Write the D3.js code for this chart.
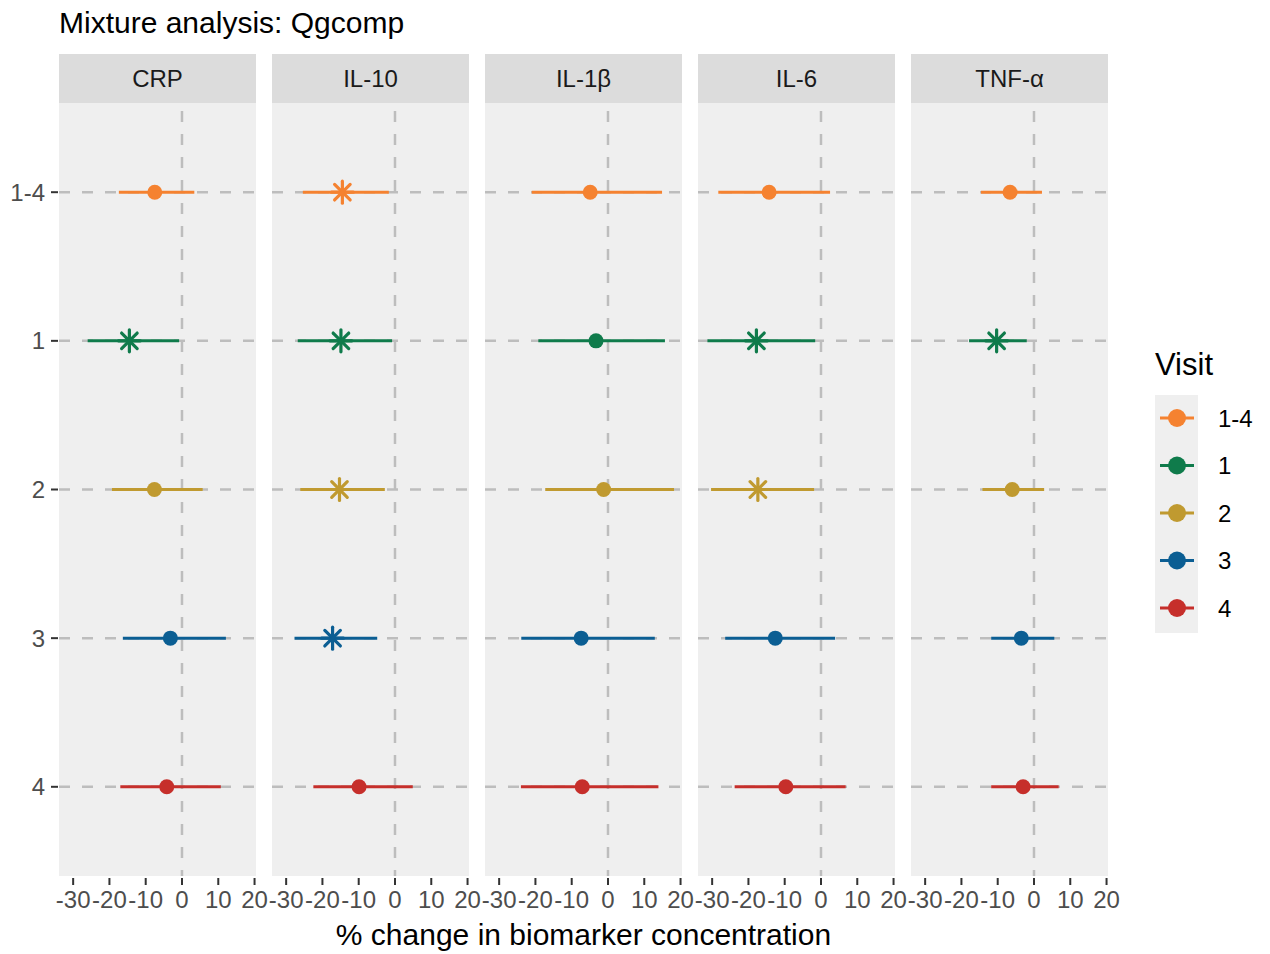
<!DOCTYPE html>
<html>
<head>
<meta charset="utf-8">
<script src="https://cdn.jsdelivr.net/npm/d3@7"></script>
<style>
  body { margin: 0; background: #fff; }
  text { font-family: "Liberation Sans", Arial, sans-serif; }
</style>
</head>
<body>
<div id="chart"></div>
<script>
var width = 1270;
var height = 954;

// facets and visits
var biomarkers = ["CRP", "IL-10", "IL-1β", "IL-6", "TNF-α"];
var visits = ["1-4", "1", "2", "3", "4"];
var visitColors = ["#f58230", "#0f7b4b", "#c09a30", "#0b5e93", "#c62f2b"];
var xTicks = [-30, -20, -10, 0, 10, 20];

// estimates (% change), one array per biomarker, in visit order
var estCRP   = [-7.5, -14.5, -7.6, -3.2, -4.2];
var lowCRP   = [-17.4, -26.0, -19.3, -16.3, -17.0];
var highCRP  = [3.4, -0.8, 5.7, 12.1, 10.7];
var sigCRP   = [false, true, false, false, false];

var estIL10  = [-14.5, -14.9, -15.3, -17.2, -9.9];
var lowIL10  = [-25.4, -26.8, -26.1, -27.7, -22.5];
var highIL10 = [-1.7, -0.8, -2.8, -4.9, 4.9];
var sigIL10  = [true, true, true, true, false];

var estIL1b  = [-4.9, -3.3, -1.2, -7.4, -7.1];
var lowIL1b  = [-21.0, -19.2, -17.3, -23.9, -24.0];
var highIL1b = [14.9, 15.7, 18.2, 12.9, 13.9];
var sigIL1b  = [false, false, false, false, false];

var estIL6   = [-14.3, -17.8, -17.4, -12.6, -9.7];
var lowIL6   = [-28.3, -31.3, -30.3, -26.4, -23.8];
var highIL6  = [2.5, -1.6, -1.9, 3.9, 6.8];
var sigIL6   = [false, true, true, false, false];

var estTNF   = [-6.6, -10.3, -6.0, -3.5, -3.0];
var lowTNF   = [-14.6, -17.9, -14.2, -11.8, -11.8];
var highTNF  = [2.2, -2.0, 2.8, 5.6, 6.8];
var sigTNF   = [false, true, false, false, false];

var estAll  = [estCRP, estIL10, estIL1b, estIL6, estTNF];
var lowAll  = [lowCRP, lowIL10, lowIL1b, lowIL6, lowTNF];
var highAll = [highCRP, highIL10, highIL1b, highIL6, highTNF];
var sigAll  = [sigCRP, sigIL10, sigIL1b, sigIL6, sigTNF];

// build rows
var rows = [];
biomarkers.forEach((b, i) => {
  visits.forEach((v, j) => {
    rows.push({
      biomarker: b,
      visit: v,
      est: estAll[i][j],
      low: lowAll[i][j],
      high: highAll[i][j],
      sig: sigAll[i][j]
    });
  });
});

var color = d3.scaleOrdinal().domain(visits).range(visitColors);

// layout
var panelLeft = 59, panelW = 197, panelGap = 16;
var stripTop = 54, stripH = 49;
var plotTop = stripTop + stripH, plotBottom = 876;

var x = d3.scaleLinear().domain([-33.9, 20.4]).range([0, panelW]);
var y = d3.scalePoint().domain(visits).range([plotTop, plotBottom]).padding(0.6);

var svg = d3.select("#chart").append("svg")
    .attr("width", width)
    .attr("height", height);

// title
svg.append("text")
    .attr("x", 59)
    .attr("y", 33)
    .attr("font-size", 30)
    .attr("fill", "#000")
    .text("Mixture analysis: Qgcomp");

function star(g, r) {
  [0, 45, 90, 135].forEach(a => {
    var rad = a * Math.PI / 180;
    g.append("line")
      .attr("x1", -r * Math.cos(rad)).attr("y1", -r * Math.sin(rad))
      .attr("x2", r * Math.cos(rad)).attr("y2", r * Math.sin(rad));
  });
}

biomarkers.forEach((b, i) => {
  var px = panelLeft + i * (panelW + panelGap);
  var g = svg.append("g").attr("transform", `translate(${px},0)`);

  // strip
  g.append("rect")
      .attr("x", 0).attr("y", stripTop)
      .attr("width", panelW).attr("height", stripH)
      .attr("fill", "#dcdcdc");
  g.append("text")
      .attr("x", panelW / 2)
      .attr("y", stripTop + stripH / 2 + 8.5)
      .attr("text-anchor", "middle")
      .attr("font-size", 24)
      .attr("fill", "#1a1a1a")
      .text(b);

  // panel bg
  g.append("rect")
      .attr("x", 0).attr("y", plotTop)
      .attr("width", panelW).attr("height", plotBottom - plotTop)
      .attr("fill", "#efefef");

  // dashed grid
  g.selectAll(".hgrid")
    .data(visits)
    .join("line")
      .attr("x1", 0).attr("x2", panelW)
      .attr("y1", d => y(d)).attr("y2", d => y(d))
      .attr("stroke", "#bdbdbd")
      .attr("stroke-width", 2.5)
      .attr("stroke-dasharray", "11,12");
  g.append("line")
      .attr("x1", x(0)).attr("x2", x(0))
      .attr("y1", plotTop).attr("y2", plotBottom)
      .attr("stroke", "#bdbdbd")
      .attr("stroke-width", 2.5)
      .attr("stroke-dasharray", "11,12")
      .attr("stroke-dashoffset", -8);

  var data = rows.filter(d => d.biomarker === b);

  g.selectAll(".ci")
    .data(data)
    .join("line")
      .attr("x1", d => x(d.low)).attr("x2", d => x(d.high))
      .attr("y1", d => y(d.visit)).attr("y2", d => y(d.visit))
      .attr("stroke", d => color(d.visit))
      .attr("stroke-width", 3);

  g.selectAll(".dot")
    .data(data.filter(d => !d.sig))
    .join("circle")
      .attr("cx", d => x(d.est))
      .attr("cy", d => y(d.visit))
      .attr("r", 7.5)
      .attr("fill", d => color(d.visit));

  data.filter(d => d.sig).forEach(d => {
    var s = g.append("g")
        .attr("transform", `translate(${x(d.est)},${y(d.visit)})`)
        .attr("stroke", color(d.visit))
        .attr("stroke-width", 3.2)
        .attr("stroke-linecap", "round");
    star(s, 11);
  });

  // x axis
  var ax = g.append("g")
      .attr("transform", `translate(0,${plotBottom})`);
  ax.selectAll("line")
    .data(xTicks)
    .join("line")
      .attr("x1", d => x(d)).attr("x2", d => x(d))
      .attr("y1", 2).attr("y2", 9)
      .attr("stroke", "#333")
      .attr("stroke-width", 2);
  ax.selectAll("text")
    .data(xTicks)
    .join("text")
      .attr("x", d => x(d))
      .attr("y", 32)
      .attr("text-anchor", "middle")
      .attr("font-size", 24)
      .attr("fill", "#4d4d4d")
      .text(d => d);
});

// y axis labels
svg.selectAll(".ylab")
  .data(visits)
  .join("text")
    .attr("x", 45)
    .attr("y", d => y(d) + 8.5)
    .attr("text-anchor", "end")
    .attr("font-size", 24)
    .attr("fill", "#4d4d4d")
    .text(d => d);
svg.selectAll(".ytick")
  .data(visits)
  .join("line")
    .attr("x1", 51).attr("x2", 58)
    .attr("y1", d => y(d)).attr("y2", d => y(d))
    .attr("stroke", "#333")
    .attr("stroke-width", 2);

// x title
svg.append("text")
    .attr("x", panelLeft + (5 * panelW + 4 * panelGap) / 2)
    .attr("y", 945)
    .attr("text-anchor", "middle")
    .attr("font-size", 30)
    .attr("fill", "#000")
    .text("% change in biomarker concentration");

// legend
var lg = svg.append("g").attr("transform", "translate(1155,0)");
lg.append("text")
    .attr("x", 0).attr("y", 375)
    .attr("font-size", 31)
    .attr("fill", "#000")
    .text("Visit");
lg.append("rect")
    .attr("x", 0).attr("y", 395)
    .attr("width", 43).attr("height", 238)
    .attr("fill", "#efefef");
var ly = d3.scalePoint().domain(visits).range([418, 608]);
var key = lg.selectAll(".key")
  .data(visits)
  .join("g")
    .attr("transform", d => `translate(0,${ly(d)})`);
key.append("line")
    .attr("x1", 5).attr("x2", 39)
    .attr("stroke", d => color(d))
    .attr("stroke-width", 3);
key.append("circle")
    .attr("cx", 22).attr("r", 9)
    .attr("fill", d => color(d));
key.append("text")
    .attr("x", 63).attr("y", 8.5)
    .attr("font-size", 24)
    .attr("fill", "#000")
    .text(d => d);
</script>
</body>
</html>
